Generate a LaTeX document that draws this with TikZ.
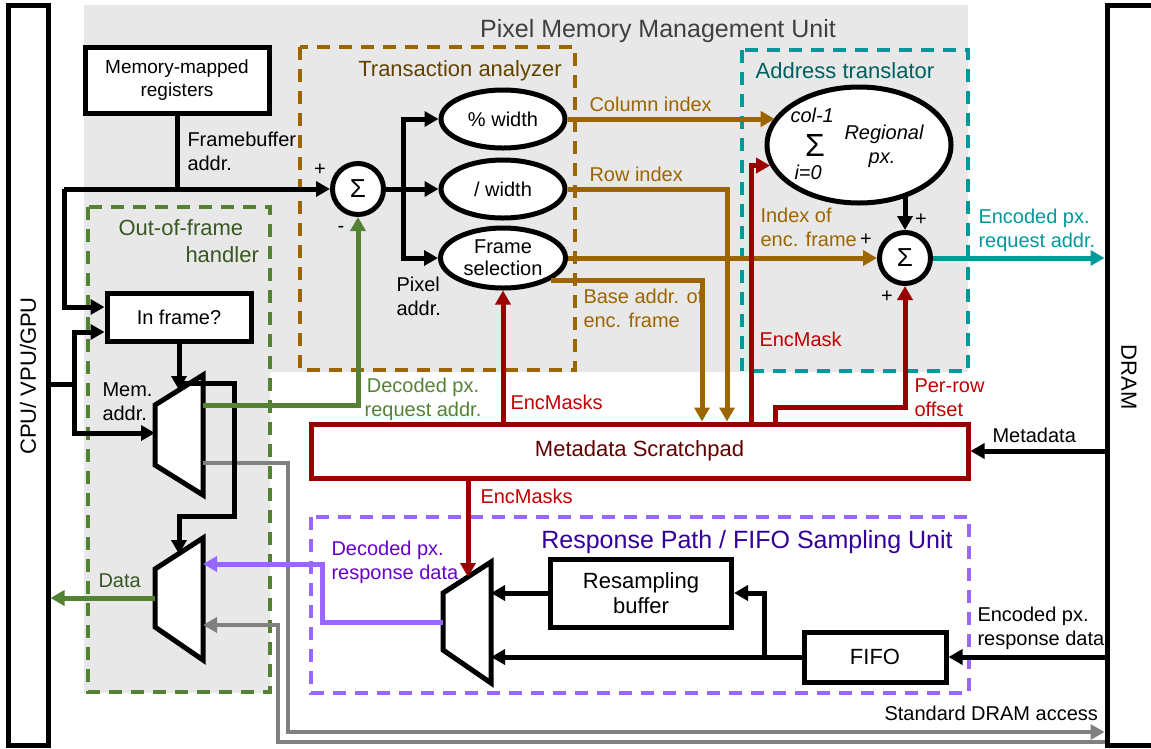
\documentclass[tikz,border=0pt]{standalone}
\usepackage{fontspec}
\setmainfont{Liberation Sans}
\usetikzlibrary{arrows.meta,shapes.geometric,calc}

\definecolor{cPanel}{RGB}{232,232,232}
\definecolor{cTitle}{RGB}{64,64,64}
\definecolor{cBrown}{RGB}{156,101,0}
\definecolor{cBrownD}{RGB}{99,66,0}
\definecolor{cTeal}{RGB}{0,153,153}
\definecolor{cTealD}{RGB}{0,95,95}
\definecolor{cRedL}{RGB}{153,0,0}
\definecolor{cRedT}{RGB}{192,0,0}
\definecolor{cMaroon}{RGB}{96,0,0}
\definecolor{cGreen}{RGB}{84,130,53}
\definecolor{cGreenD}{RGB}{56,87,35}
\definecolor{cPurple}{RGB}{153,102,255}
\definecolor{cPurpleT}{RGB}{102,0,204}
\definecolor{cIndigo}{RGB}{51,0,153}
\definecolor{cGray}{RGB}{128,128,128}

\begin{document}
\begin{tikzpicture}[x=1pt, y=-1pt, line width=5pt,
  >={Triangle[length=14pt,width=15pt]},
  lbl/.style={inner sep=0pt, font=\fontsize{20}{23.5}\selectfont},
  ttl/.style={inner sep=0pt, font=\fontsize{22}{26}\selectfont},
  bigttl/.style={inner sep=0pt, font=\fontsize{25}{30}\selectfont},
  box/.style={draw, fill=white, inner sep=0pt, align=center, font=\fontsize{20}{23.5}\selectfont},
  oval/.style={draw, ellipse, fill=white, inner sep=0pt, align=center,
    minimum width=124pt, minimum height=58pt, font=\fontsize{20}{22}\selectfont},
  adder/.style={draw, circle, fill=white, inner sep=0pt, minimum size=51pt,
    font=\fontsize{26}{26}\selectfont},
  muxbody/.style={draw, fill=white, line join=miter},
  grp/.style={line width=3.5pt, dash pattern=on 13pt off 9pt},
  gwire/.style={draw=cGray, line width=4.5pt},
]
\useasboundingbox (0,0) rectangle (1151,748);

% ---------- shaded unit areas ----------
\fill[cPanel] (84,5) -- (968,5) -- (968,372) -- (270,372) -- (270,693) -- (84,693) -- cycle;
\node[bigttl, text=cTitle, anchor=base] (pmmu) at (658,37) {Pixel Memory Management Unit};

% ---------- dashed sub-units ----------
\draw[grp, cBrown]  (300,47)  rectangle (575,370);
\draw[grp, cTeal]   (742,50)  rectangle (968,371);
\draw[grp, cGreen]  (88,207)  rectangle (270,692);
\draw[grp, cPurple] (311,517) rectangle (969,693);

\node[ttl, text=cBrownD, anchor=base] (tatitle) at (460,76) {Transaction analyzer};
\node[ttl, text=cTealD, anchor=base] (attitle) at (845,78) {Address translator};
\node[ttl, text=cGreenD, anchor=base west] (oftitleA) at (116,235) {Out-of-frame};
\node[ttl, text=cGreenD, anchor=base west] (oftitleB) at (183,262) {handler};
\node[bigttl, text=cIndigo, anchor=base] (rptitle) at (747,548) {Response Path / FIFO Sampling Unit};

% ---------- host and memory ----------
\node[draw, fill=white, minimum width=40pt, minimum height=740pt, inner sep=0pt] (cpu) at (28,375) {};
\node[ttl, rotate=90] (cpulbl) at (28,376) {CPU/ VPU/GPU};
\node[draw, fill=white, minimum width=60pt, minimum height=740pt, inner sep=0pt] (dram) at (1137,375) {};
\node[ttl, rotate=-90] (dramlbl) at (1129,377) {DRAM};

% ---------- blocks ----------
\node[box, minimum width=184pt, minimum height=66pt, font=\fontsize{19}{23}\selectfont] (mmr) at (177,80) {Memory-mapped\\registers};
\node[adder] (s1) at (358,189) {Σ};
\node[oval] (pw) at (503,119) {\% width};
\node[oval] (dw) at (503,189) {/ width};
\node[oval, minimum width=125pt, minimum height=60pt] (fs) at (503,258) {Frame\\selection};
\node[oval, minimum width=184pt, minimum height=116pt] (reg) at (859,145) {};
\node[adder] (s2) at (905,258) {Σ};
\node[box, draw=cRedL, text=cMaroon, minimum width=657pt, minimum height=54pt, font=\fontsize{22}{26}\selectfont] (msp) at (639.5,451) {Metadata Scratchpad};
\node[box, minimum width=144pt, minimum height=48pt] (inf) at (179,317) {In frame?};
\node[box, minimum width=181pt, minimum height=68pt, font=\fontsize{22}{25}\selectfont] (rsb) at (641,593) {Resampling\\buffer};
\node[box, minimum width=142pt, minimum height=50pt, font=\fontsize{22}{25}\selectfont] (fifo) at (875,657) {FIFO};

% regional pixel sum inside the translator ellipse
\node[inner sep=0pt, font=\fontsize{20}{22}\selectfont\itshape, anchor=base west] (colm) at (788,122) {col-1};
\node[inner sep=0pt, font=\fontsize{32}{32}\selectfont, anchor=base] (bigsum) at (815,156) {Σ};
\node[inner sep=0pt, font=\fontsize{20}{22}\selectfont\itshape, anchor=base west] (izero) at (792,179) {i=0};
\node[inner sep=0pt, font=\fontsize{20}{24}\selectfont\itshape, anchor=base] (regA) at (884,139) {Regional};
\node[inner sep=0pt, font=\fontsize{20}{24}\selectfont\itshape, anchor=base] (regB) at (882,163) {px.};

% ---------- multiplexers ----------
\draw[muxbody] (155,405) -- (203,375) -- (203,495) -- (155,465) -- cycle;
\draw[muxbody] (155,569) -- (203,538) -- (203,660) -- (155,627) -- cycle;
\draw[muxbody] (443,593) -- (491,562) -- (491,683) -- (443,650) -- cycle;
\coordinate (m1in)  at (155,433);
\coordinate (m1sel) at (179,390);
\coordinate (m1out) at (203,405);
\coordinate (m1gry) at (203,463);
\coordinate (m2sel) at (179,554);
\coordinate (m2pin) at (203,564);
\coordinate (m2gry) at (203,625);
\coordinate (m2out) at (155,598);
\coordinate (rmsel) at (468,577);
\coordinate (rmout) at (443,622);
\coordinate (rmin)  at (491,622);

% ---------- junction points ----------
\coordinate (fbj) at (64,189);
\coordinate (cpj) at (74,384);
\coordinate (fan) at (403,189);
\coordinate (rowx) at (727,0);
\coordinate (basex) at (702,0);
\coordinate (emx) at (751,0);
\coordinate (prj) at (775,407);
\coordinate (pj) at (322,564);
\coordinate (sdA) at (288,732);
\coordinate (sdB) at (278,742);
\coordinate (brx) at (764,0);
\coordinate (emb) at (468,0);

% ---------- standard DRAM path (gray) ----------
\draw[gwire, ->] (m1gry) -| (sdA) -- (sdA -| dram.west);
\draw[gwire, ->] (sdB -| dram.west) -- (sdB) |- (m2gry);
\node[lbl, anchor=base west] (stdlbl) at (882,720) {Standard DRAM access};

% ---------- request path (black) ----------
\draw (mmr.south) -- (mmr.south |- s1.west);
\draw[->] (fbj) -- (s1.west);
\draw[->] (fbj) |- ([yshift=10pt]inf.west);
\draw (cpu.east |- cpj) -- (cpj);
\draw[->] (cpj) |- ([yshift=-15pt]inf.west);
\draw[->] (cpj) |- (m1in);
\draw[->] (inf.south) -- (m1sel);
\draw[->] ([yshift=-40pt]inf.south) -| (234,516) -| (m2sel);
\draw (s1.east) -- (fan);
\draw[->] (fan) -- (dw.west);
\draw[->] (fan) |- (pw.west);
\draw[->] (fan) |- (fs.west);
\draw[->] (reg.-47.5 -| s2.north) -- (s2.north);

% ---------- labels on the request side (anchored at the last line's baseline) ----------
\node[lbl, anchor=base west, align=left] (fblbl) at (185,170) {Framebuffer\\addr.};
\node[lbl, anchor=base west, align=left] (pxlbl) at (394,315) {Pixel\\addr.};
\node[lbl, anchor=base west, align=left] (memlbl) at (100,420) {Mem.\\addr.};
\node[lbl, anchor=center] (s1p) at (320,170) {+};
\node[lbl, anchor=center] (s1m) at (341,229) {-};
\node[lbl, anchor=center] (s2a) at (921,220) {+};
\node[lbl, anchor=center] (s2b) at (866,240) {+};
\node[lbl, anchor=center] (s2c) at (887,297) {+};

% ---------- index computations (brown) ----------
\draw[cBrown, ->] (pw.east) -- (pw.east -| reg.162);
\draw[cBrown, ->] (dw.east) -| (rowx |- msp.north);
\draw[cBrown, ->] (fs.east) -- (s2.west);
\draw[cBrown, ->] (fs.-25) -| (basex |- msp.north);
\node[lbl, text=cBrown, anchor=base west] (collbl) at (587,111) {Column index};
\node[lbl, text=cBrown, anchor=base west] (rowlbl) at (587,181) {Row index};
\node[lbl, text=cBrown, anchor=base west, align=left] (baselbl) at (581,327) {Base addr. of\\enc. frame};
\node[lbl, text=cBrown, anchor=base west, align=left] (idxlbl) at (758,246) {Index of\\enc. frame};

% ---------- metadata (red) ----------
\draw[cRedL, ->] (fs.south |- msp.north) -- (fs.south);
\draw[cRedL, ->] (emx |- msp.north) |- (reg.193);
\draw[cRedL, ->] (prj |- msp.north) -- (prj) -| (s2.south);
\draw[cRedL, ->] (emb |- msp.south) -- (rmsel);
\node[lbl, text=cRedT, anchor=base west] (em1) at (508,409) {EncMasks};
\node[lbl, text=cRedT, anchor=base west] (em2) at (757,346) {EncMask};
\node[lbl, text=cRedT, anchor=base west, align=left] (prlbl) at (912,416) {Per-row\\offset};
\node[lbl, text=cRedT, anchor=base west] (em3) at (478,503) {EncMasks};
\draw[->] (dram.west |- msp.east) -- (msp.east);
\node[lbl, anchor=base west] (mdlbl) at (990,442) {Metadata};

% ---------- encoded request (teal) ----------
\draw[cTeal, ->] (s2.east) -- (s2.east -| dram.west);
\node[lbl, text=cTeal, anchor=base west, align=left] (reqlbl) at (976,247) {Encoded px.\\request addr.};

% ---------- decoded request back to the adder (green) ----------
\draw[cGreen, ->] (m1out) -| (s1.south);
\node[lbl, text=cGreen, anchor=base, align=center] (decreq) at (423,416) {Decoded px.\\request addr.};
\draw[cGreen, ->] (m2out) -- (cpu.east |- m2out);
\node[lbl, text=cGreenD, anchor=base west] (datalbl) at (96,587) {Data};

% ---------- response path ----------
\draw[->] (dram.west |- fifo.east) -- (fifo.east);
\node[lbl, anchor=base west, align=left] (resplbl) at (975,645) {Encoded px.\\response data};
\draw[->] (fifo.west) -- (fifo.west -| rmin);
\draw[->] (brx |- fifo.west) |- (rsb.east);
\draw[->] (rsb.west) -- (rsb.west -| rmin);
\draw[cPurple, ->] (rmout) -| (pj) -- (m2pin);
\node[lbl, text=cPurpleT, anchor=base west, align=left] (decresp) at (329,579) {Decoded px.\\response data};
\end{tikzpicture}
\end{document}
